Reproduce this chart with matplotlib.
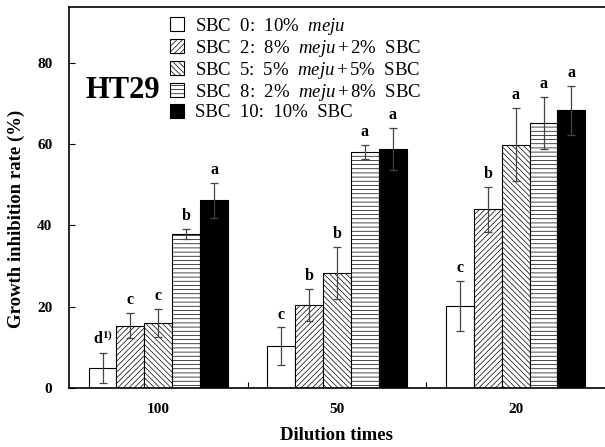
import numpy as np
import matplotlib
matplotlib.use("Agg")
import matplotlib.pyplot as plt

plt.rcParams['font.family'] = ['Liberation Serif', 'DejaVu Serif']
plt.rcParams['mathtext.fontset'] = 'custom'
plt.rcParams['mathtext.rm'] = 'Liberation Serif'
plt.rcParams['mathtext.it'] = 'Liberation Serif:italic'
plt.rcParams['mathtext.bf'] = 'Liberation Serif:bold'
plt.rcParams['hatch.linewidth'] = 0.5

dilutions = ['100', '50', '20']
series_labels = [
    r'SBC  0:  10%  $\mathit{meju}$',
    r'SBC  2:  8%  $\mathit{meju}+\mathrm{2}$%  SBC',
    r'SBC  5:  5%  $\mathit{meju}+\mathrm{5}$%  SBC',
    r'SBC  8:  2%  $\mathit{meju}+\mathrm{8}$%  SBC',
    'SBC  10:  10%  SBC',
]
means = [
    [5.0, 10.3, 20.2],
    [15.3, 20.4, 44.0],
    [16.0, 28.2, 59.9],
    [37.9, 58.1, 65.2],
    [46.2, 58.8, 68.3],
]
errors = [
    [3.7, 4.6, 6.2],
    [3.1, 3.9, 5.5],
    [3.4, 6.4, 8.9],
    [1.2, 1.7, 6.5],
    [4.3, 5.2, 6.1],
]
letters = [
    [r'$\mathbf{d^{1)}}$', 'c', 'c'],
    ['c', 'b', 'b'],
    ['c', 'b', 'a'],
    ['b', 'a', 'a'],
    ['a', 'a', 'a'],
]

faces = ['white', 'white', 'white', 'white', 'black']
hatches = ['', '//////', '\\\\\\\\\\\\', '----', '']

fig = plt.figure(figsize=(6.05, 4.47), dpi=100)
ax = fig.add_axes([0.114, 0.132, 0.886, 0.852])

x = np.arange(len(dilutions))
w = 0.156
for i in range(5):
    pos = x + (i - 2) * w
    ax.bar(pos, means[i], w, color=faces[i], edgecolor='black', linewidth=0.8,
           hatch=hatches[i], label=series_labels[i], zorder=2)
    ax.errorbar(pos, means[i], yerr=errors[i], fmt='none', ecolor='#444444',
                elinewidth=0.9, capsize=3, capthick=0.9, zorder=3)
    for j in range(len(x)):
        ax.text(pos[j], means[i][j] + errors[i][j] + 1.2, letters[i][j],
                ha='center', va='bottom', fontsize=11.5, fontweight='bold')

ax.set_xlim(-0.5, 2.5)
ax.set_ylim(0, 93.7)
ax.set_yticks([0, 20, 40, 60, 80])
ax.tick_params(axis='y', direction='in', length=4, labelsize=11, pad=12)
for lab in ax.get_yticklabels():
    lab.set_fontweight('bold')

ax.set_xticks([0.5, 1.5])
ax.set_xticklabels([])
ax.set_xticks(x, minor=True)
ax.set_xticklabels(dilutions, minor=True, fontsize=11, fontweight='bold')
ax.tick_params(axis='x', which='major', direction='in', length=4)
ax.tick_params(axis='x', which='minor', length=0, pad=11)

ax.spines['right'].set_visible(False)
for s in ['left', 'bottom', 'top']:
    ax.spines[s].set_linewidth(1.2)

ax.set_ylabel('Growth inhibition rate (%)', fontsize=13.5, fontweight='bold')
ax.yaxis.set_label_coords(-0.082, 0.444)
ax.set_xlabel('Dilution times', fontsize=13.5, fontweight='bold', labelpad=8)

ax.text(0.03, 0.78, 'HT29', transform=ax.transAxes, fontsize=22,
        fontweight='bold', va='center', ha='left')

ax.legend(loc='upper left', bbox_to_anchor=(0.188, 0.978), frameon=False,
          fontsize=13.5, handlelength=0.75, handleheight=0.75, handletextpad=0.6,
          labelspacing=0.06, borderaxespad=0, borderpad=0)

fig.savefig('out.png', dpi=100)
